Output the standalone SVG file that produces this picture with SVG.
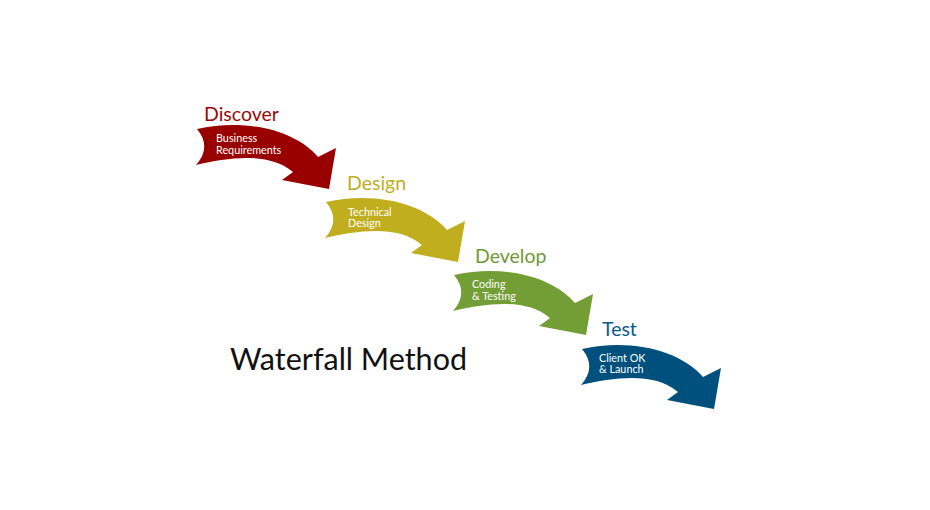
<svg xmlns="http://www.w3.org/2000/svg" xmlns:xlink="http://www.w3.org/1999/xlink" width="930" height="510" viewBox="0 0 930 510">
  <defs>
    <!-- curved step arrow, origin at the upper-left corner of its tail -->
    <path id="step" d="M0,0 Q15,18 -1,36 C33,28 73,23 96,43 L85,51 L132,60 L139,19 L121,28 C98,1 48,-11 0,0 Z"/>
  </defs>
  <style>
    .head { font-family: Lato, "Open Sans", sans-serif; font-size: 19.5px; }
    .sub { font-family: Lato, "Open Sans", sans-serif; font-size: 10.8px; fill: #ffffff; }
    .title { font-family: Lato, "Open Sans", sans-serif; font-size: 30.5px; fill: #111111; }
  </style>
  <rect width="930" height="510" fill="#ffffff"/>

  <g id="discover">
    <use xlink:href="#step" href="#step" transform="translate(197,129)" fill="#990000"/>
    <text class="head" x="204" y="120.5" fill="#990a0a">Discover</text>
    <text class="sub" x="216" y="142">Business</text>
    <text class="sub" x="216" y="153.5">Requirements</text>
  </g>

  <g id="design">
    <use xlink:href="#step" href="#step" transform="translate(326,202)" fill="#c1ae1f"/>
    <text class="head" x="347" y="189.5" fill="#c1ae1f">Design</text>
    <text class="sub" x="348" y="215.5">Technical</text>
    <text class="sub" x="348" y="227">Design</text>
  </g>

  <g id="develop">
    <use xlink:href="#step" href="#step" transform="translate(454,275)" fill="#739d35"/>
    <text class="head" x="475" y="263" fill="#6f9a35">Develop</text>
    <text class="sub" x="472" y="288">Coding</text>
    <text class="sub" x="472" y="299.5">&amp; Testing</text>
  </g>

  <g id="test">
    <use xlink:href="#step" href="#step" transform="translate(582,349)" fill="#00507e"/>
    <text class="head" x="602" y="335.5" fill="#0a5a8a">Test</text>
    <text class="sub" x="599" y="361.5">Client OK</text>
    <text class="sub" x="599" y="373">&amp; Launch</text>
  </g>

  <g id="title">
    <text class="title" x="230" y="369.5">Waterfall Method</text>
  </g>
</svg>
